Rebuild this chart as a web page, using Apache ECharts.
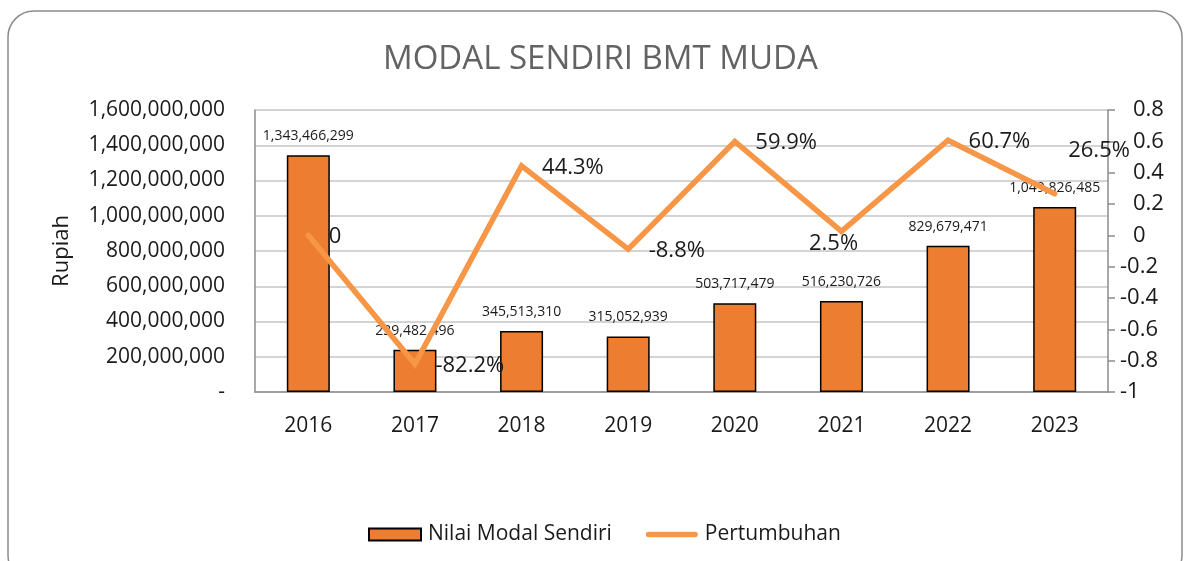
<!DOCTYPE html>
<html>
<head>
<meta charset="utf-8">
<script src="https://cdn.jsdelivr.net/npm/echarts@6/dist/echarts.min.js"></script>
<style>
  html, body { margin: 0; padding: 0; background: #fff; }
  #chart { width: 1184px; height: 561px; }
</style>
</head>
<body>
<div id="chart"></div>
<script>
// ---- data ----
var years = ["2016", "2017", "2018", "2019", "2020", "2021", "2022", "2023"];
var modalValues = [1343466299, 239482496, 345513310, 315052939, 503717479, 516230726, 829679471, 1049826485];
var growthValues = [0, -0.822, 0.443, -0.088, 0.599, 0.025, 0.607, 0.265];
// label placement relative to the point (Excel style: mostly to the right)
var growthLabelPos = ["r", "r", "r", "r", "r", "b", "r", "t"];

var FONT = "'Open Sans', 'Noto Sans', sans-serif";
var BAR_COLOR = "#ED7D31";
var LINE_COLOR = "#F79646";
var GRID_COLOR = "#c6c6c6";
var TEXT_COLOR = "#1a1a1a";

function fmtNum(v) {
  return Math.round(v).toString().replace(/\B(?=(\d{3})+(?!\d))/g, ",");
}
function fmtPct(v) {
  if (v === 0) return "0";
  return (v * 100).toFixed(1) + "%";
}

var posMap = { r: [21, -9], b: [-32, 2], t: [14, -54] };
var growthData = growthValues.map(function(v, i) {
  return { value: v, label: { position: posMap[growthLabelPos[i]] } };
});

var chart = echarts.init(document.getElementById("chart"));

chart.setOption({
  backgroundColor: "#fff",
  animation: false,
  textStyle: { fontFamily: FONT },

  // ---- rounded frame ----
  graphic: [{
    type: "rect",
    shape: { x: 8, y: 11, width: 1174, height: 570, r: 26 },
    style: { fill: "none", stroke: "#8c8c8c", lineWidth: 1.5 },
    silent: true,
    z: -10
  }],

  title: {
    text: "MODAL SENDIRI BMT MUDA",
    left: 378,
    top: 38,
    textStyle: { fontFamily: FONT, fontSize: 33, fontWeight: "normal", color: "#636363" }
  },

  legend: {
    bottom: 11,
    left: 363,
    itemGap: 34,
    itemWidth: 52,
    itemHeight: 12,
    textStyle: { fontFamily: FONT, fontSize: 21, color: TEXT_COLOR, padding: [0, 0, 0, 2] },
    data: [
      { name: "Nilai Modal Sendiri", icon: "rect" },
      { name: "Pertumbuhan", icon: "path://M3,0 L53,0 A3,3 0 0 1 53,6 L3,6 A3,3 0 0 1 3,0 Z",
        itemStyle: { color: LINE_COLOR, opacity: 1, borderWidth: 0 } }
    ]
  },

  grid: { left: 255, right: 76, top: 110, bottom: 169 },

  xAxis: {
    type: "category",
    data: years,
    axisLine: { show: true, lineStyle: { color: "#8c8c8c", width: 1.5 } },
    axisTick: { show: false },
    axisLabel: { fontFamily: FONT, fontSize: 21, color: TEXT_COLOR, margin: 24 }
  },

  yAxis: [
    {
      type: "value",
      min: 0,
      max: 1600000000,
      interval: 200000000,
      name: "Rupiah",
      nameLocation: "middle",
      nameRotate: 90,
      nameGap: 182,
      nameTextStyle: { fontFamily: FONT, fontSize: 22, color: TEXT_COLOR },
      axisLine: { show: true, lineStyle: { color: "#8c8c8c", width: 1.5 } },
      axisTick: { show: false },
      axisLabel: {
        fontFamily: FONT, fontSize: 21, color: TEXT_COLOR, margin: 30,
        formatter: function(v) { return v === 0 ? "-" : fmtNum(v); }
      },
      splitLine: { show: true, lineStyle: { color: GRID_COLOR, width: 1.5 } }
    },
    {
      type: "value",
      min: -1,
      max: 0.8,
      interval: 0.2,
      position: "right",
      axisLine: { show: true, lineStyle: { color: "#8c8c8c", width: 1.5 } },
      axisTick: { show: true, length: 7, lineStyle: { color: "#8c8c8c", width: 1.5 } },
      axisLabel: {
        fontFamily: FONT, fontSize: 22, color: TEXT_COLOR, margin: 12,
        formatter: function(v) {
          var s = String(Math.round(v * 10) / 10);
          return v < -1e-9 ? "{n|" + s + "}" : "{p|" + s + "}";
        },
        rich: {
          n: { fontFamily: FONT, fontSize: 22, color: TEXT_COLOR },
          p: { fontFamily: FONT, fontSize: 22, color: TEXT_COLOR, padding: [0, 0, 0, 13] }
        }
      },
      splitLine: { show: false }
    }
  ],

  series: [
    {
      name: "Nilai Modal Sendiri",
      type: "bar",
      data: modalValues,
      barWidth: 43,
      itemStyle: { color: BAR_COLOR, borderColor: "#000", borderWidth: 1.5 },
      label: {
        show: true,
        position: "top",
        distance: 12,
        fontFamily: FONT,
        fontSize: 14,
        color: TEXT_COLOR,
        formatter: function(p) { return fmtNum(p.value); }
      },
      z: 2
    },
    {
      name: "Pertumbuhan",
      type: "line",
      yAxisIndex: 1,
      data: growthData,
      symbol: "circle",
      symbolSize: 1,
      showSymbol: true,
      lineStyle: { color: LINE_COLOR, width: 5.5, cap: "round", join: "miter" },
      itemStyle: { color: "rgba(0,0,0,0)", borderWidth: 0 },
      label: {
        show: true,
        fontFamily: FONT,
        fontSize: 22,
        color: TEXT_COLOR,
        opacity: 1,
        formatter: function(p) { return fmtPct(p.value); }
      },
      labelLayout: { hideOverlap: false },
      z: 3
    }
  ]
});
</script>
</body>
</html>
